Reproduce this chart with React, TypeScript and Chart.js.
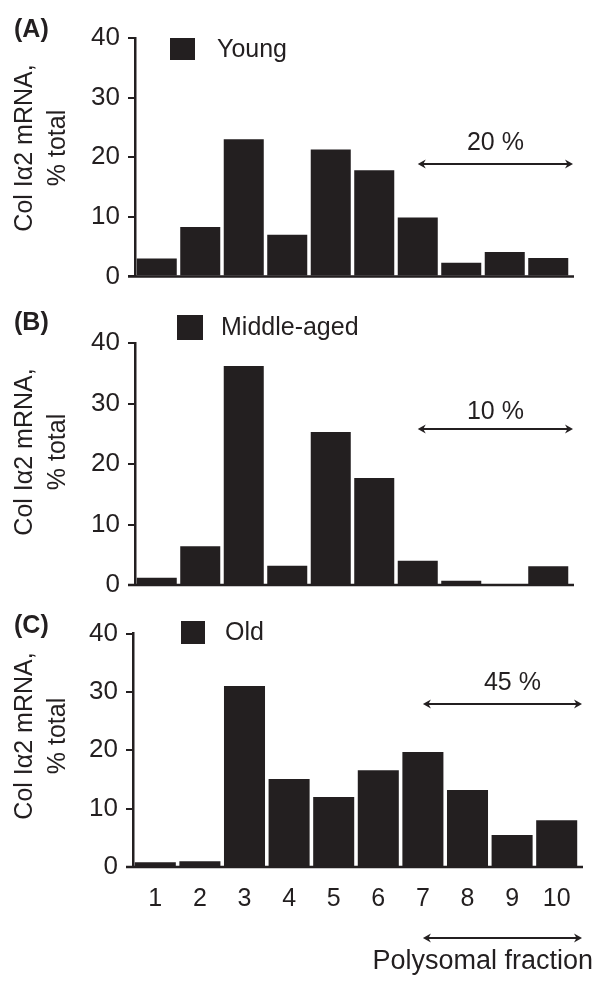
import React, { useEffect, useRef } from 'react';
import { Chart, registerables } from 'chart.js';

Chart.register(...registerables);

// ---- data ----
const fractions = ['1', '2', '3', '4', '5', '6', '7', '8', '9', '10'];
const youngValues = [3.0, 8.3, 23.0, 7.0, 21.3, 17.8, 9.9, 2.3, 4.1, 3.1];
const middleAgedValues = [1.2, 6.4, 36.2, 3.2, 25.3, 17.7, 4.0, 0.7, 0.1, 3.1];
const oldValues = [0.8, 1.0, 31.0, 15.1, 12.0, 16.6, 19.7, 13.2, 5.5, 8.0];
const yTickValues = [0, 10, 20, 30, 40];
const panelLabels = ['(A)', '(B)', '(C)'];
const seriesNames = ['Young', 'Middle-aged', 'Old'];
const polysomalPercents = ['20 %', '10 %', '45 %'];
const yTitleLines = ['Col Iα2 mRNA,', '% total'];
const xTitle = 'Polysomal fraction';
const arrowStartIndex = 6; // fraction 7

const INK = '#231f20';
const FONT = '"Liberation Sans", Arial, Helvetica, sans-serif';

type Panel = {
  h: number;
  top: number;
  bottom: number;
  left: number;
  right: number;
  showX: boolean;
  legendBox: [number, number, number, number];
  legendTextX: number;
  legendY: number;
  labelY: number;
  titleY: number;
  arrowY: number;
  pctY: number;
  pctDx: number;
};

const panels: Panel[] = [
  { h: 300, top: 38, bottom: 280, left: 135, right: 570, showX: false, legendBox: [170, 38, 25, 22], legendTextX: 217, legendY: 50, labelY: 30, titleY: 148, arrowY: 164, pctY: 143, pctDx: 0 },
  { h: 310, top: 43, bottom: 285, left: 135, right: 570, showX: false, legendBox: [177, 15, 26, 25], legendTextX: 221, legendY: 28, labelY: 23, titleY: 152, arrowY: 129, pctY: 112, pctDx: 0 },
  { h: 372, top: 18, bottom: 257, left: 133, right: 579, showX: true, legendBox: [181, 11, 24, 23], legendTextX: 225, legendY: 23, labelY: 16, titleY: 126, arrowY: 94, pctY: 73, pctDx: 10 },
];

const seriesData = [youngValues, middleAgedValues, oldValues];

function drawArrow(ctx: CanvasRenderingContext2D, x1: number, x2: number, y: number) {
  ctx.save();
  ctx.strokeStyle = INK;
  ctx.fillStyle = INK;
  ctx.lineWidth = 2;
  ctx.beginPath();
  ctx.moveTo(x1 + 3, y);
  ctx.lineTo(x2 - 3, y);
  ctx.stroke();
  const hl = 8, hw = 4.5;
  ctx.beginPath();
  ctx.moveTo(x1, y);
  ctx.lineTo(x1 + hl, y - hw);
  ctx.lineTo(x1 + hl - 2.5, y);
  ctx.lineTo(x1 + hl, y + hw);
  ctx.closePath();
  ctx.fill();
  ctx.beginPath();
  ctx.moveTo(x2, y);
  ctx.lineTo(x2 - hl, y - hw);
  ctx.lineTo(x2 - hl + 2.5, y);
  ctx.lineTo(x2 - hl, y + hw);
  ctx.closePath();
  ctx.fill();
  ctx.restore();
}

function PanelChart({ index }: { index: number }) {
  const ref = useRef<HTMLCanvasElement | null>(null);
  const p = panels[index];
  useEffect(() => {
    if (!ref.current) return;
    const decor = {
      id: 'decor' + index,
      afterDraw(chart: any) {
        const ctx: CanvasRenderingContext2D = chart.ctx;
        const area = chart.chartArea;
        const xs = chart.scales.x;
        const ys = chart.scales.y;
        ctx.save();
        ctx.fillStyle = INK;
        ctx.strokeStyle = INK;
        // baseline
        const y0 = ys.getPixelForValue(0);
        ctx.lineWidth = 2.5;
        ctx.beginPath();
        ctx.moveTo(area.left - 7, y0);
        ctx.lineTo(area.right + 4, y0);
        ctx.stroke();
        // panel label
        ctx.font = `bold 25px ${FONT}`;
        ctx.textAlign = 'left';
        ctx.textBaseline = 'middle';
        ctx.fillText(panelLabels[index], 14, p.labelY);
        // legend
        const [bx, by, bw, bh] = p.legendBox;
        ctx.fillRect(bx, by, bw, bh);
        ctx.font = `25px ${FONT}`;
        ctx.fillText(seriesNames[index], p.legendTextX, p.legendY);
        // y title
        ctx.save();
        ctx.translate(25, p.titleY);
        ctx.rotate(-Math.PI / 2);
        ctx.textAlign = 'center';
        ctx.textBaseline = 'middle';
        ctx.font = `25px ${FONT}`;
        ctx.fillText(yTitleLines[0], 0, 0);
        ctx.fillText(yTitleLines[1], 0, 33);
        ctx.restore();
        // arrow + percent
        const ax1 = xs.getPixelForValue(arrowStartIndex);
        const ax2 = area.right + 3;
        drawArrow(ctx, ax1, ax2, p.arrowY);
        ctx.font = `25px ${FONT}`;
        ctx.textAlign = 'center';
        ctx.textBaseline = 'middle';
        ctx.fillText(polysomalPercents[index], (ax1 + ax2) / 2 + p.pctDx, p.pctY);
        if (p.showX) {
          drawArrow(ctx, ax1, ax2, 328);
          ctx.font = `27px ${FONT}`;
          ctx.textAlign = 'right';
          ctx.fillText(xTitle, 593, 352);
        }
        ctx.restore();
      },
    };
    const chart = new Chart(ref.current, {
      type: 'bar',
      data: {
        labels: fractions,
        datasets: [
          {
            label: seriesNames[index],
            data: seriesData[index],
            backgroundColor: INK,
            borderWidth: 0,
            barPercentage: 0.92,
            categoryPercentage: 1.0,
          },
        ],
      },
      options: {
        animation: false,
        responsive: false,
        events: [],
        layout: { padding: { top: p.top, left: 0, right: 600 - p.right, bottom: 0 } },
        plugins: { legend: { display: false }, tooltip: { enabled: false }, title: { display: false } },
        scales: {
          x: {
            offset: true,
            grid: { display: false },
            border: { display: false },
            ticks: {
              display: p.showX,
              color: INK,
              font: { family: FONT, size: 25 },
              padding: 9,
              maxRotation: 0,
              autoSkip: false,
            },
            afterFit: (s: any) => {
              s.height = p.h - p.bottom;
            },
          },
          y: {
            min: 0,
            max: 40,
            afterBuildTicks: (s: any) => {
              s.ticks = yTickValues.map((v) => ({ value: v }));
            },
            grid: { drawOnChartArea: false, drawTicks: true, tickLength: 7, color: INK, lineWidth: 2 },
            border: { display: true, color: INK, width: 2.5 },
            ticks: {
              color: INK,
              font: { family: FONT, size: 26 },
              padding: 8,
            },
            afterFit: (s: any) => {
              s.width = p.left;
            },
          },
        },
      },
      plugins: [decor],
    });
    return () => chart.destroy();
  }, [index]);
  return <canvas ref={ref} width={600} height={p.h} style={{ display: 'block', width: 600, height: p.h }} />;
}

export default function App() {
  return (
    <div style={{ position: 'absolute', left: 0, top: 0, width: 600, height: 982, background: '#fff' }}>
      <PanelChart index={0} />
      <PanelChart index={1} />
      <PanelChart index={2} />
    </div>
  );
}
